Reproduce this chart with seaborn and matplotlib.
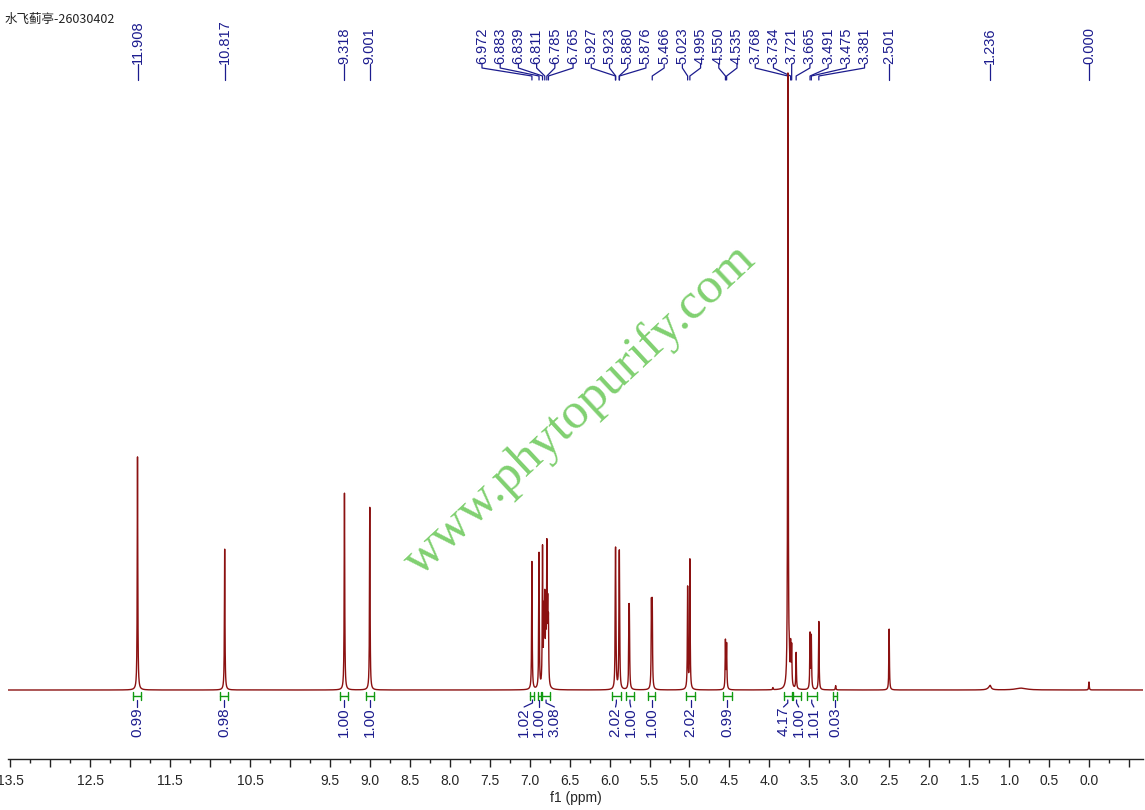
import numpy as np
import pandas as pd
import matplotlib
matplotlib.use("Agg")
import matplotlib.pyplot as plt
import seaborn as sns

# ---------------- data ----------------
title = "水飞蓟亭-26030402"

# resolved lines: shift (ppm) and height (% of tallest line)
line_ppm = [11.908, 10.817, 9.318, 9.001,
            6.972, 6.883, 6.839, 6.822, 6.811, 6.798, 6.785, 6.774, 6.765,
            5.927, 5.923, 5.880, 5.876, 5.757, 5.752, 5.476, 5.466,
            5.023, 4.995, 4.550, 4.535,
            3.955, 3.768, 3.750, 3.734, 3.721, 3.665, 3.491, 3.475, 3.381, 3.170,
            2.501, 0.000]
line_height = [37.9, 22.9, 32.0, 29.7,
               20.8, 22.0, 22.3, 11.0, 13.0, 10.0, 21.5, 11.0, 9.5,
               14.4, 14.4, 14.1, 14.1, 9.7, 9.7, 13.2, 13.2,
               16.5, 21.0, 7.8, 7.2,
               0.35, 100.0, 4.0, 6.2, 6.3, 5.9, 8.9, 8.5, 11.1, 0.7,
               9.9, 1.3]
line_hwhm = 0.004

# broad humps
broad_ppm = [1.236, 1.25, 0.85]
broad_height = [0.5, 0.3, 0.3]
broad_hwhm = [0.012, 0.03, 0.08]

# peak picking labels
peak_labels = [11.908, 10.817, 9.318, 9.001,
               6.972, 6.883, 6.839, 6.811, 6.785, 6.765,
               5.927, 5.923, 5.880, 5.876, 5.466, 5.023, 4.995, 4.550, 4.535,
               3.768, 3.734, 3.721, 3.665, 3.491, 3.475, 3.381,
               2.501, 1.236, 0.000]

# integrals: region start / end (ppm) and value
integral_from = [11.96, 10.87, 9.37, 9.05, 6.99, 6.90, 6.84, 5.97, 5.79, 5.52,
                 5.04, 4.58, 3.82, 3.71, 3.53, 3.20]
integral_to = [11.86, 10.77, 9.27, 8.95, 6.94, 6.86, 6.75, 5.86, 5.70, 5.43,
               4.93, 4.47, 3.72, 3.61, 3.41, 3.15]
integral_value = ["0.99", "0.98", "1.00", "1.00", "1.02", "1.00", "3.08", "2.02",
                  "1.00", "1.00", "2.02", "0.99", "4.17", "1.00", "1.01", "0.03"]

major_ticks = [13.5, 13.0, 12.5, 12.0, 11.5, 11.0, 10.5, 10.0, 9.5, 9.0, 8.5, 8.0,
               7.5, 7.0, 6.5, 6.0, 5.5, 5.0, 4.5, 4.0, 3.5, 3.0, 2.5, 2.0, 1.5,
               1.0, 0.5, 0.0, -0.5]
tick_text = ["13.5", "", "12.5", "", "11.5", "", "10.5", "", "9.5", "9.0", "8.5",
             "8.0", "7.5", "7.0", "6.5", "6.0", "5.5", "5.0", "4.5", "4.0", "3.5",
             "3.0", "2.5", "2.0", "1.5", "1.0", "0.5", "0.0", ""]

# ---------------- layout ----------------
W, H = 1145, 810
X_LEFT, X_RIGHT = 13.529, -0.676
BASE_ROW = 690          # pixel row of the baseline
PX_PER_UNIT = 6.15      # pixels per intensity unit
AX_BOTTOM_ROW = 759

spec_col = "#8b1111"
lab_col = "#1c1c8e"
int_col = "#109a10"


def yrow(r):
    # pixel row -> intensity units
    return (BASE_ROW - r) / PX_PER_UNIT


def spread(ppm, gap):
    # least-squares placement of labels with a minimum gap (pool adjacent violators)
    order = np.argsort(-np.asarray(ppm))
    pos = -np.asarray(ppm, dtype=float)[order]
    y = pos - gap * np.arange(len(pos))
    blocks = []
    for v in y:
        blocks.append([v, 1])
        while len(blocks) > 1 and blocks[-2][0] / blocks[-2][1] > blocks[-1][0] / blocks[-1][1]:
            s, c = blocks.pop()
            blocks[-1][0] += s
            blocks[-1][1] += c
    fit = []
    for s, c in blocks:
        fit += [s / c] * c
    fit = np.array(fit) + gap * np.arange(len(pos))
    out = np.empty(len(pos))
    out[order] = -fit
    return out


# ---------------- spectrum ----------------
grid = np.union1d(np.linspace(X_RIGHT, X_LEFT, 24000), line_ppm)
inten = np.zeros_like(grid)
for p, h in zip(line_ppm, line_height):
    inten += h / (1 + ((grid - p) / line_hwhm) ** 2)
for p, h, w in zip(broad_ppm, broad_height, broad_hwhm):
    inten += h / (1 + ((grid - p) / w) ** 2)
spec = pd.DataFrame({"ppm": grid, "intensity": inten})

sns.set_style("white")
plt.rcParams["font.family"] = ["Liberation Sans", "DejaVu Sans"]

fig = plt.figure(figsize=(W / 100, H / 100), dpi=100)
ax = fig.add_axes([8 / W, (H - AX_BOTTOM_ROW) / H, (W - 10) / W, AX_BOTTOM_ROW / H])

sns.lineplot(data=spec, x="ppm", y="intensity", ax=ax, color=spec_col,
             linewidth=1.0, estimator=None, sort=False, zorder=3)

ax.set_xlim(X_LEFT, X_RIGHT)
ax.set_ylim(yrow(AX_BOTTOM_ROW), yrow(0))

for s in ["left", "right", "top"]:
    ax.spines[s].set_visible(False)
ax.spines["bottom"].set_color("#222222")
ax.spines["bottom"].set_linewidth(1.0)
ax.set_yticks([])
ax.set_ylabel("")
ax.set_xticks(major_ticks)
ax.set_xticklabels(tick_text)
ax.set_xticks(np.arange(-0.25, 13.6, 0.5), minor=True)
ax.tick_params(axis="x", which="major", direction="out", length=6, width=1,
               color="#222222", labelsize=10, pad=5, bottom=True)
ax.tick_params(axis="x", which="minor", direction="out", length=3, width=1,
               color="#222222", bottom=True)
ax.set_xlabel("f1 (ppm)", fontsize=10, labelpad=2)

# ---------------- peak labels ----------------
lab_pos = spread(peak_labels, 0.228)
for p, lx in zip(peak_labels, lab_pos):
    ax.text(lx, yrow(64), f"{p:.3f}", rotation=90, ha="center", va="bottom",
            fontsize=10.5, color=lab_col, clip_on=False)
    ax.plot([lx, lx, p, p], [yrow(64), yrow(68), yrow(76), yrow(80)],
            color=lab_col, lw=0.9, clip_on=False)

# ---------------- integrals ----------------
int_mid = [(a + b) / 2 for a, b in zip(integral_from, integral_to)]
int_pos = spread(int_mid, 0.19)
for a, b, m, lx, v in zip(integral_from, integral_to, int_mid, int_pos, integral_value):
    ax.plot([a, b], [yrow(696), yrow(696)], color=int_col, lw=1.0)
    ax.plot([a, a], [yrow(692), yrow(700)], color=int_col, lw=1.0)
    ax.plot([b, b], [yrow(692), yrow(700)], color=int_col, lw=1.0)
    ax.plot([m, m, lx], [yrow(700), yrow(703), yrow(707)], color=lab_col, lw=0.9)
    ax.text(lx, yrow(707), v, rotation=90, ha="center", va="top",
            fontsize=11, color=lab_col)

# ---------------- title and watermark ----------------
fig.text(5 / W, 1 - 19 / H, title, fontsize=9, va="center", ha="left", color="#222222",
         family=["Noto Sans CJK SC", "DejaVu Sans"])
fig.text(580 / W, 1 - 410 / H, "www.phytopurify.com", rotation=43, fontsize=37,
         ha="center", va="center", color="#80d070", family=["Liberation Serif"],
         rotation_mode="anchor", zorder=0)

fig.savefig("out.png", dpi=100)
